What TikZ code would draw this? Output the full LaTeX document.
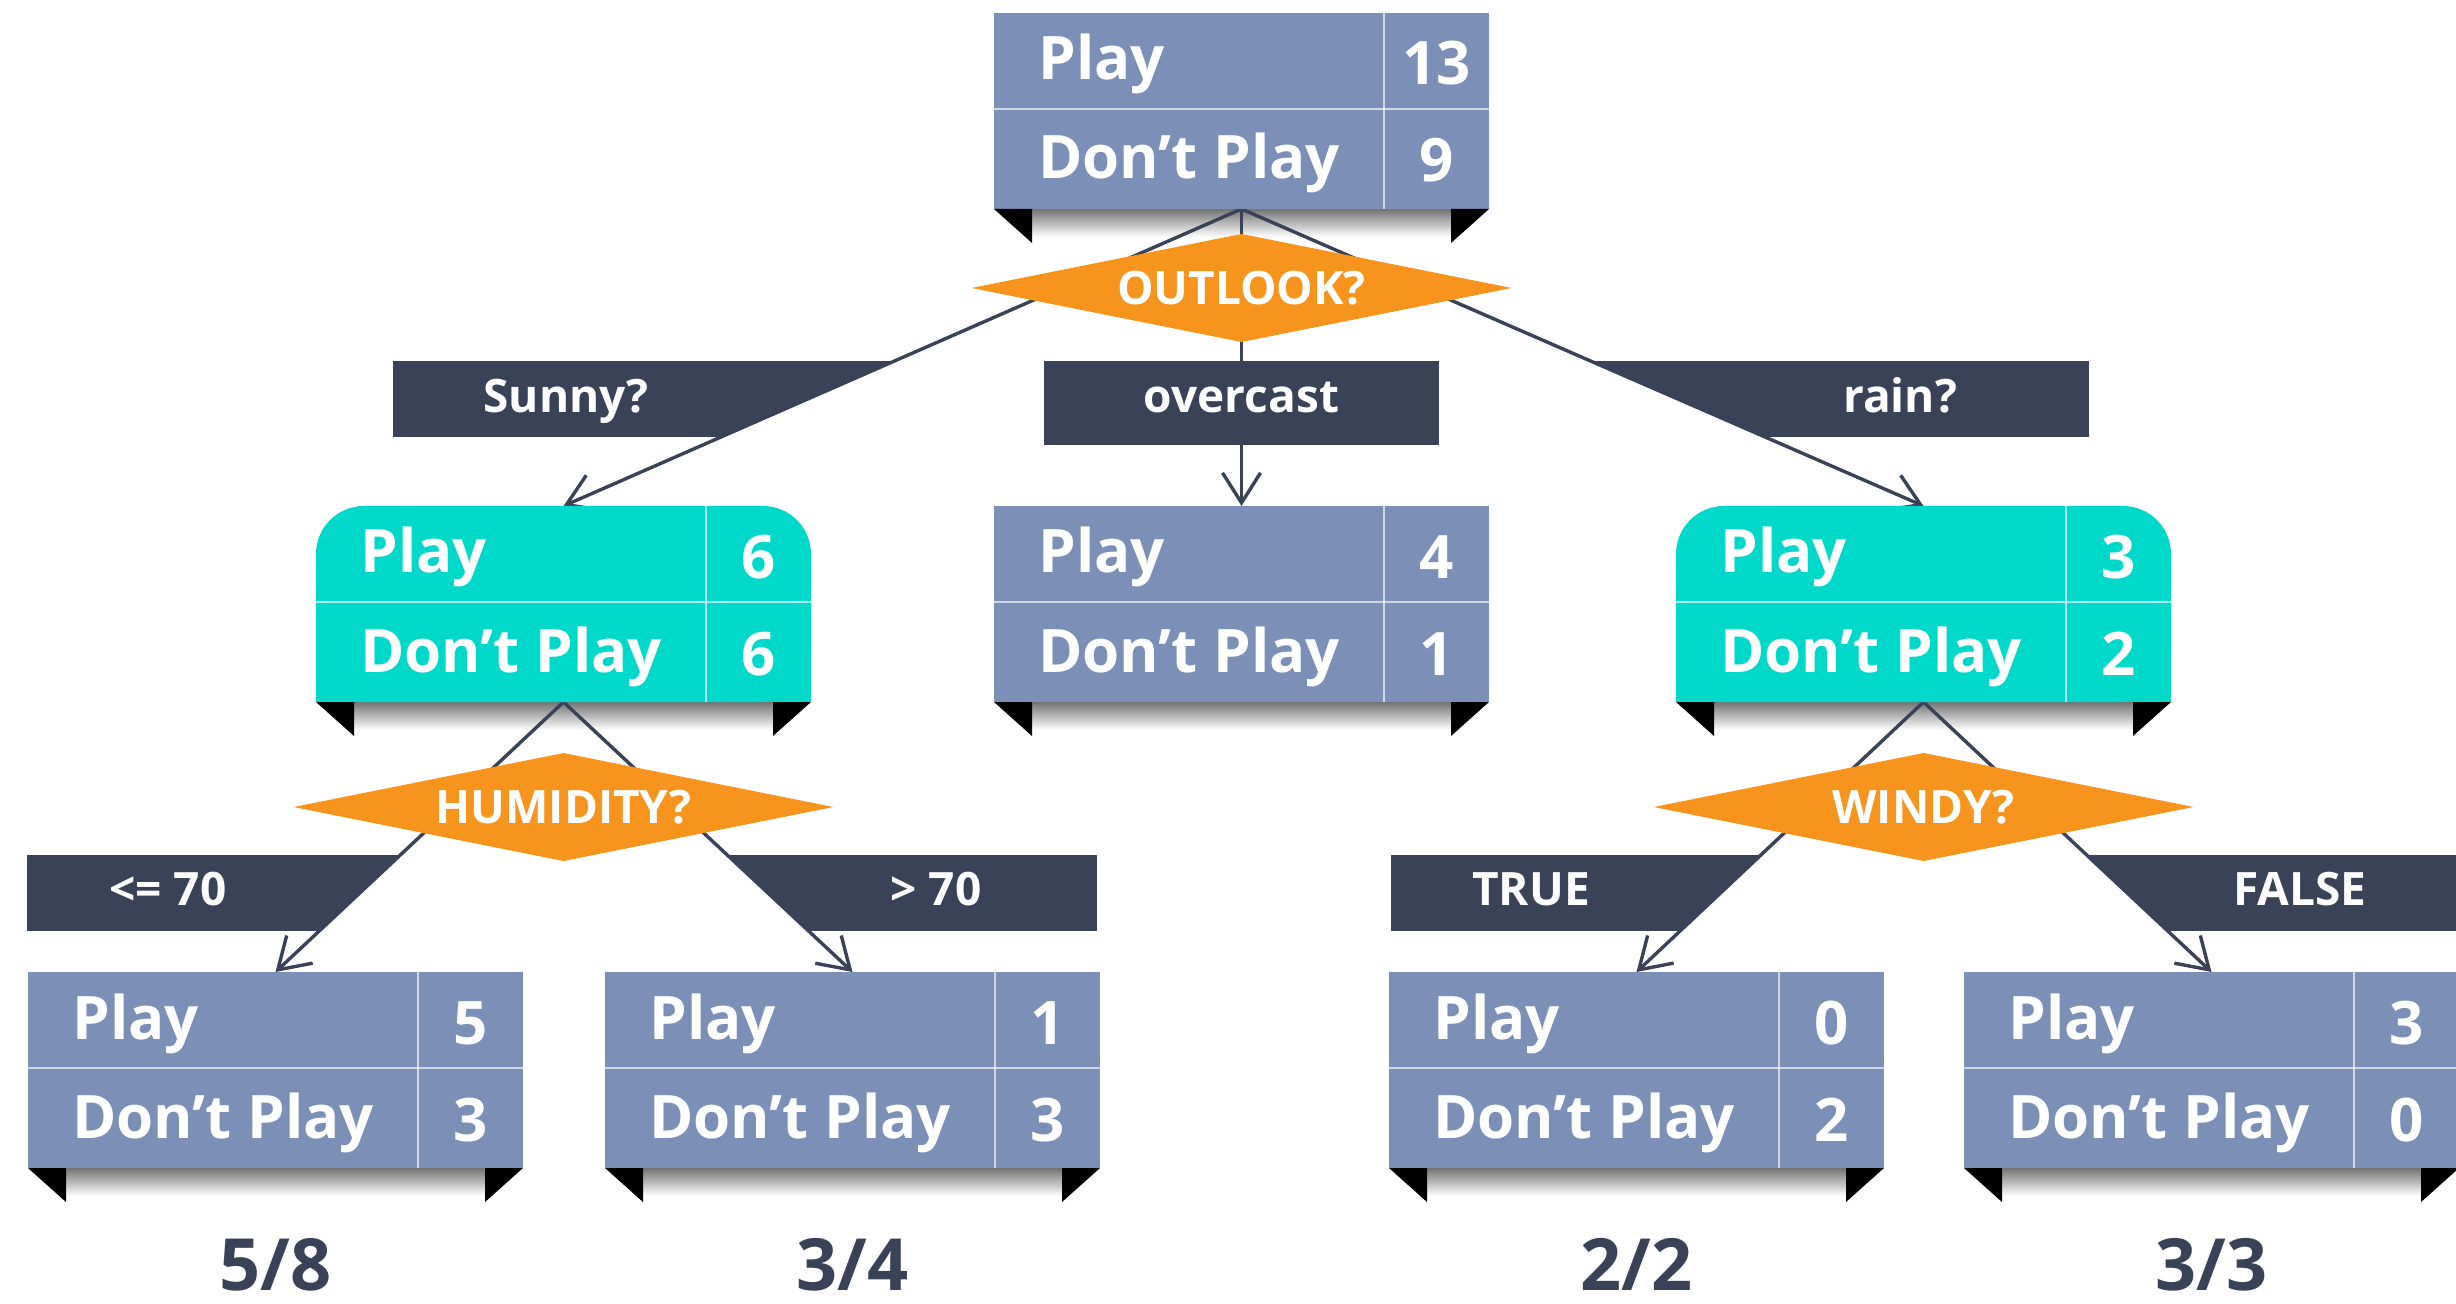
\documentclass[tikz,border=0pt]{standalone}
\usepackage{fontspec}
\setmainfont{Open Sans}
\usetikzlibrary{arrows.meta,calc,shapes.geometric}
\pgfdeclarelayer{bg}
\pgfdeclarelayer{mid}
\pgfsetlayers{bg,mid,main}
\definecolor{boxblue}{HTML}{7C8FB7}
\definecolor{boxteal}{HTML}{00D8C9}
\definecolor{diaor}{HTML}{F7941D}
\definecolor{bardark}{HTML}{394256}
\tikzset{
 boxtxt/.style={text=white, font=\fontsize{30pt}{35pt}\selectfont\bfseries, inner sep=0pt},
 bartxt/.style={text=white, font=\fontsize{23pt}{28pt}\selectfont\bfseries, inner sep=0pt, anchor=base},
 fractxt/.style={text=bardark, font=\fontsize{36pt}{42pt}\selectfont\bfseries, inner sep=0pt, anchor=base},
 decision/.style={shape=diamond, aspect=5, fill=diaor, text=white, font=\fontsize{23pt}{28pt}\selectfont\bfseries, inner sep=0pt, outer sep=0pt, minimum width=270pt, minimum height=54pt},
 conn/.style={draw=bardark, line width=1.7pt, -{Straight Barb[length=15pt,width=19pt]}},
 divline/.style={draw=white, line width=1pt, opacity=0.65},
 barfill/.style={fill=bardark},
}
\newcommand\pbox[7]{%
  \fill[#4,#5] (#2,#3) rectangle ++(495,196);
  \fill[#4] (#2,#3+98) rectangle ++(495,98);
  \draw[divline] (#2,#3+96) -- ++(495,0);
  \draw[divline] (#2+390,#3) -- ++(0,196);
  \node[inner sep=0pt,outer sep=0pt,minimum width=247.5pt,minimum height=98pt] (#1) at (#2+247.5,#3+98) {};
  \node[boxtxt,anchor=base west] (#1-l1) at (#2+44,#3+67) {Play};
  \node[boxtxt,anchor=base west] (#1-l2) at (#2+44,#3+166) {Don’t Play};
  \node[boxtxt,anchor=base] (#1-n1) at (#2+442.5,#3+72) {#6};
  \node[boxtxt,anchor=base] (#1-n2) at (#2+442.5,#3+169) {#7};
  \fill[black] (#2,#3+196) -- (#2+38,#3+196) -- (#2+38,#3+230) -- cycle;
  \fill[black] (#2+495,#3+196) -- (#2+457,#3+196) -- (#2+457,#3+230) -- cycle;
  \begin{pgfonlayer}{bg}
  \shade[top color=black!55, bottom color=white] (#2+38,#3+196) rectangle (#2+457,#3+224);
  \end{pgfonlayer}
}
\begin{document}
\begin{tikzpicture}[x=0.5pt,y=-0.5pt]
\useasboundingbox (0,0) rectangle (2456,1304);
% boxes
\pbox{root}{994}{13}{boxblue}{sharp corners}{13}{9}
\pbox{sunny}{316}{506}{boxteal}{rounded corners=24pt}{6}{6}
\pbox{over}{994}{506}{boxblue}{sharp corners}{4}{1}
\pbox{rain}{1676}{506}{boxteal}{rounded corners=24pt}{3}{2}
\pbox{b1}{28}{972}{boxblue}{sharp corners}{5}{3}
\pbox{b2}{605}{972}{boxblue}{sharp corners}{1}{3}
\pbox{b3}{1389}{972}{boxblue}{sharp corners}{0}{2}
\pbox{b4}{1964}{972}{boxblue}{sharp corners}{3}{0}
% label bars
\begin{pgfonlayer}{bg}
 \begin{scope}
  \clip (root.south) -- (sunny.north) -- (0,600) -- (0,100) -- cycle;
  \fill[barfill] (393,361) rectangle (1300,437);
 \end{scope}
 \begin{scope}
  \clip (root.south) -- (rain.north) -- (2456,600) -- (2456,100) -- cycle;
  \fill[barfill] (1200,361) rectangle (2089,437);
 \end{scope}
 \begin{scope}
  \clip (sunny.south) -- (b1.north) -- (0,1000) -- (0,650) -- cycle;
  \fill[barfill] (27,855) rectangle (900,931);
 \end{scope}
 \begin{scope}
  \clip (sunny.south) -- (b2.north) -- (1500,1000) -- (1500,650) -- cycle;
  \fill[barfill] (400,855) rectangle (1097,931);
 \end{scope}
 \begin{scope}
  \clip (rain.south) -- (b3.north) -- (1000,1000) -- (1000,650) -- cycle;
  \fill[barfill] (1391,855) rectangle (2000,931);
 \end{scope}
 \begin{scope}
  \clip (rain.south) -- (b4.north) -- (2600,1000) -- (2600,650) -- cycle;
  \fill[barfill] (1800,855) rectangle (2600,931);
 \end{scope}
\end{pgfonlayer}
% connectors
\begin{pgfonlayer}{mid}
 \draw[conn] (root.south) -- (sunny.north);
 \draw[conn] (root.south) -- (over.north);
 \draw[conn] (root.south) -- (rain.north);
 \draw[conn] (sunny.south) -- (b1.north);
 \draw[conn] (sunny.south) -- (b2.north);
 \draw[conn] (rain.south) -- (b3.north);
 \draw[conn] (rain.south) -- (b4.north);
\end{pgfonlayer}
\fill[barfill] (1044,361) rectangle (1439,445);
% decisions
\node[decision] (outlook) at (1241.5,288) {OUTLOOK?};
\node[decision] (humid) at (563.5,807) {HUMIDITY?};
\node[decision] (windy) at (1923.5,807) {WINDY?};
% bar texts
\node[bartxt] (lsunny) at (566,413) {Sunny?};
\node[bartxt] (lover) at (1241.5,413) {overcast};
\node[bartxt] (lrain) at (1900,413) {rain?};
\node[bartxt] (lle) at (168,905) {<= 70};
\node[bartxt] (lgt) at (936,905) {> 70};
\node[bartxt] (ltrue) at (1531,905) {TRUE};
\node[bartxt] (lfalse) at (2300,905) {FALSE};
% fractions
\node[fractxt] (f1) at (275.5,1290) {5/8};
\node[fractxt] (f2) at (852.5,1290) {3/4};
\node[fractxt] (f3) at (1636.5,1290) {2/2};
\node[fractxt] (f4) at (2211.5,1290) {3/3};
\end{tikzpicture}
\end{document}
